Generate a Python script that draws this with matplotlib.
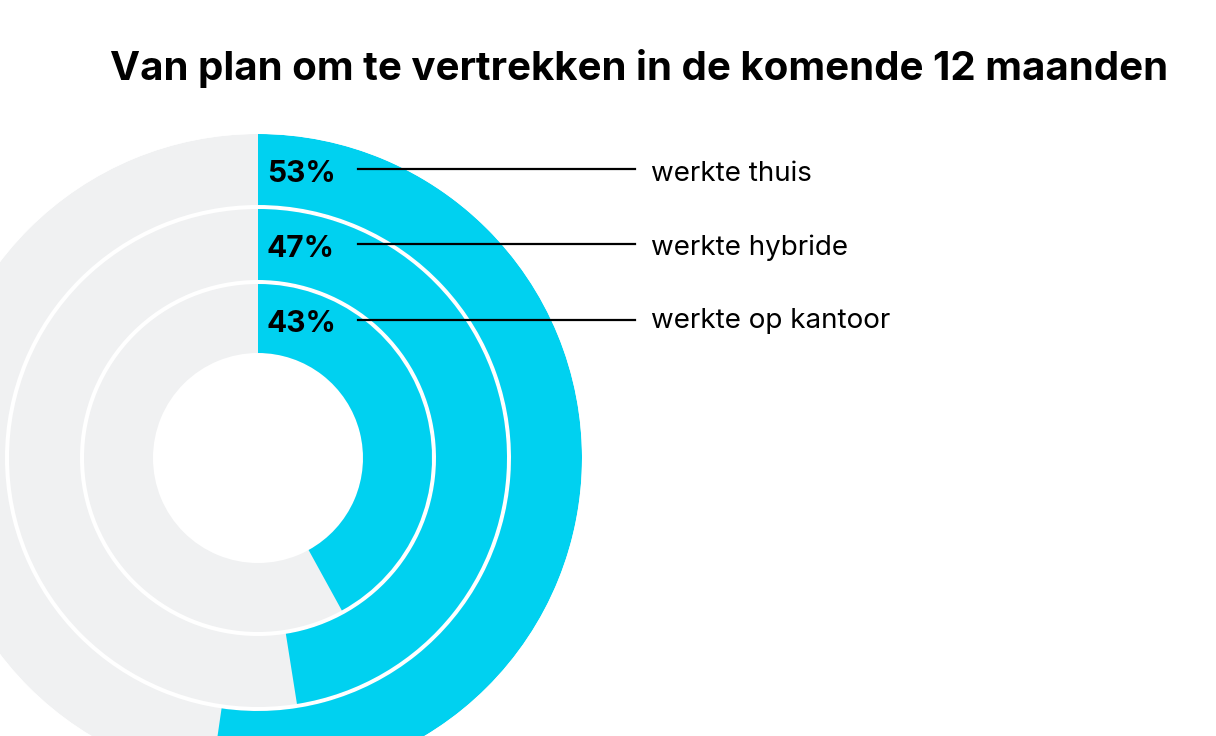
import numpy as np
import matplotlib.pyplot as plt

# data
groups = ["werkte thuis", "werkte hybride", "werkte op kantoor"]
shares = [53, 47, 43]
# arc length of each ring as drawn in the picture (percent of full circle)
arc_share = [52.3, 47.5, 42.0]

cyan = "#00D1F0"
grey = "#F0F1F2"

W, H = 1216, 736
fig = plt.figure(figsize=(W / 100, H / 100), dpi=100)

# polar axes, center at (258, 458) px, outer radius 324 px
cx, cy, R = 258, 458, 324
ax = fig.add_axes([(cx - R) / W, (H - cy - R) / H, 2 * R / W, 2 * R / H],
                  projection="polar")
ax.set_theta_zero_location("N")
ax.set_theta_direction(-1)
ax.set_ylim(0, R)
ax.axis("off")

# ring radii (outer ring first)
rings = [(253, 324), (178, 249), (105, 174)]
for (r0, r1), a in zip(rings, arc_share):
    ax.bar(0, r1 - r0, width=2 * np.pi, bottom=r0, align="edge",
           color=grey, linewidth=0)
    ax.bar(0, r1 - r0, width=2 * np.pi * a / 100, bottom=r0, align="edge",
           color=cyan, linewidth=0)

# overlay for labels
ov = fig.add_axes([0, 0, 1, 1])
ov.set_xlim(0, W)
ov.set_ylim(H, 0)
ov.axis("off")

ov.text(639, 80, "Van plan om te vertrekken in de komende 12 maanden",
        ha="center", va="baseline", fontsize=29, fontweight="bold",
        family="Inter")

pct_y = [182, 257, 332]
line_y = [169, 244, 320]
name_y = [181, 255, 328]
for i, (g, s) in enumerate(zip(groups, shares)):
    ov.text(267, pct_y[i], f"{s}%", ha="left", va="baseline", fontsize=21.5,
            fontweight="bold", family="Inter")
    ov.plot([358, 635], [line_y[i], line_y[i]], color="black", linewidth=1.6)
    ov.text(651, name_y[i], g, ha="left", va="baseline", fontsize=20,
            family="Inter")

fig.savefig("out.png", dpi=100)
